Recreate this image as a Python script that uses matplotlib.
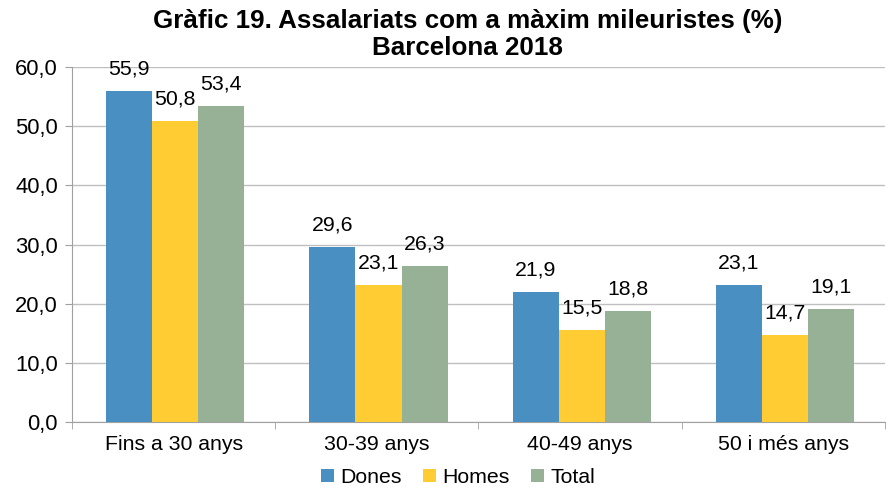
import matplotlib
matplotlib.use("Agg")
import matplotlib.pyplot as plt
import numpy as np

plt.rcParams['font.family'] = ['Liberation Sans', 'DejaVu Sans']

categories = ["Fins a 30 anys", "30-39 anys", "40-49 anys", "50 i més anys"]
dones = [55.9, 29.6, 21.9, 23.1]
homes = [50.8, 23.1, 15.5, 14.7]
total = [53.4, 26.3, 18.8, 19.1]
series_names = ["Dones", "Homes", "Total"]
colors = ["#4A8FC2", "#FFCC33", "#96B196"]
yticks = [0, 10, 20, 30, 40, 50, 60]

fs = 15.3
fig = plt.figure(figsize=(8.93, 4.91), dpi=100)
ax = fig.add_axes([0.0806, 0.1405, 0.9104, 0.723])

x = np.arange(len(categories))
w = 0.227
for i, (vals, name, c) in enumerate(zip([dones, homes, total], series_names, colors)):
    pos = x + (i - 1) * w + 0.008
    bars = ax.bar(pos, vals, w, color=c, label=name, zorder=3)
    for b, v in zip(bars, vals):
        ax.annotate(f"{v:.1f}".replace('.', ','), (b.get_x() + b.get_width() / 2, v),
                    xytext=(0, 9), textcoords='offset points', ha='center', va='bottom',
                    fontsize=fs, color='black')

ax.set_xlim(-0.5, len(categories) - 0.5)
ax.set_ylim(0, 60)
ax.set_yticks(yticks)
ax.set_yticklabels([f"{t:.1f}".replace('.', ',') for t in yticks], fontsize=15.8)
ax.yaxis.grid(True, color='#BFBFBF', linewidth=1, zorder=0)
ax.set_axisbelow(True)

ax.set_xticks(x)
ax.set_xticklabels(categories, fontsize=fs)
ax.tick_params(axis='x', length=0, pad=9)
ax.set_xticks(np.arange(-0.5, len(categories) + 0.5, 1), minor=True)
ax.tick_params(axis='x', which='minor', length=5, color='#A0A0A0', direction='out')
ax.tick_params(axis='y', length=5, color='#A0A0A0', direction='out', pad=5)

for s in ['top', 'right']:
    ax.spines[s].set_visible(False)
ax.spines['left'].set_color('#A0A0A0')
ax.spines['bottom'].set_color('#A0A0A0')

fig.text(0.524, 0.958, "Gràfic 19. Assalariats com a màxim mileuristes (%)", ha='center', va='center',
         fontsize=18.7, fontweight='bold')
fig.text(0.524, 0.903, "Barcelona 2018", ha='center', va='center', fontsize=18.7, fontweight='bold')

fig.legend(loc='center', bbox_to_anchor=(0.513, 0.027), ncol=3, frameon=False, fontsize=fs,
           handlelength=0.6, handleheight=0.6, handletextpad=0.3, columnspacing=1.0,
           borderpad=0)

fig.savefig("out.png", dpi=100)
